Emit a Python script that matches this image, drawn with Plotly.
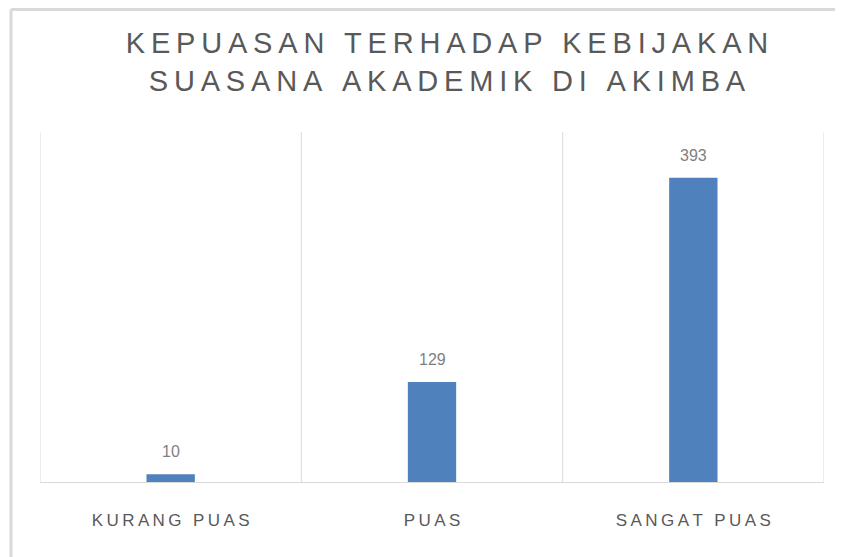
import plotly.graph_objects as go

categories = ["KURANG PUAS", "PUAS", "SANGAT PUAS"]
values = [10, 129, 393]
title_lines = ["KEPUASAN TERHADAP KEBIJAKAN", "SUASANA AKADEMIK DI AKIMBA"]


def spaced(s, sep="\u2009"):
    # the original chart uses wide letter spacing
    return sep.join(s)


# the page body has an 8px margin, so the figure starts at (8, 8)
OFF = 8
W, H = 843 - OFF, 557 - OFF
L, R, T, B = 40 - OFF, 19, 132 - OFF, 75
grey_line = "#d9d9d9"
narrow = "Liberation Sans Narrow, Liberation Sans, Arial"

fig = go.Figure()
fig.add_trace(go.Bar(
    x=[spaced(c) for c in categories], y=values, width=0.185,
    marker=dict(color="#4f81bd", line=dict(width=0)),
    hoverinfo="y",
))

# data labels above the bars
for c, v in zip(categories, values):
    fig.add_annotation(x=spaced(c), y=v, text=str(v), showarrow=False,
                       yanchor="bottom", yshift=12,
                       font=dict(family="Liberation Sans", size=16, color="#7f7f7f"))

# category separators / plot box
for i in range(len(categories) + 1):
    fig.add_shape(type="line", xref="x", yref="paper",
                  x0=i - 0.5, x1=i - 0.5, y0=0, y1=1,
                  line=dict(color=grey_line, width=1))

# outer chart border (left and top edges)
pw, ph = W - L - R, H - T - B
bx = (11 - 40) / pw
by = 1 + (T - 1.5) / ph
fig.add_shape(type="line", xref="paper", yref="paper",
              x0=bx, x1=bx, y0=-B / ph, y1=by, line=dict(color=grey_line, width=3))
fig.add_shape(type="line", xref="paper", yref="paper",
              x0=bx, x1=1 + R / pw, y0=by, y1=by, line=dict(color=grey_line, width=3))

fig.update_layout(
    width=W, height=H,
    margin=dict(l=L, r=R, t=T, b=B),
    paper_bgcolor="white", plot_bgcolor="white",
    showlegend=False,
    title=dict(text="<br>".join(spaced(t) for t in title_lines),
               x=(447 - OFF) / W, xanchor="center",
               y=1 - (53 - OFF) / H, yanchor="middle", yref="container",
               font=dict(family=narrow, size=29, color="#595959")),
    xaxis=dict(range=[-0.5, 2.5], showgrid=False, showline=True,
               linecolor=grey_line, linewidth=1, ticks="",
               ticklabelstandoff=23,
               tickfont=dict(family=narrow, size=17, color="#595959")),
    yaxis=dict(range=[0, 452], showgrid=False, showticklabels=False,
               zeroline=False, showline=False),
)

fig.write_html("out.html")
